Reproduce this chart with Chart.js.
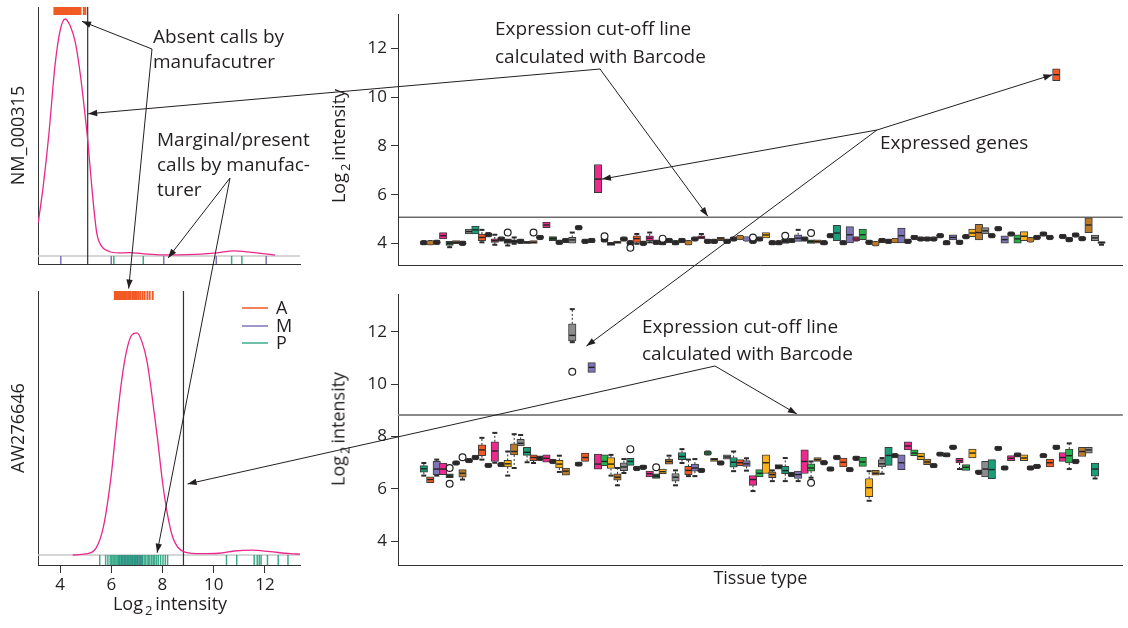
<!DOCTYPE html>
<html>
<head>
<meta charset="utf-8">
<script src="https://cdn.jsdelivr.net/npm/chart.js@4.4.1/dist/chart.umd.min.js"></script>
<style>
  body { margin: 0; background: #fff; width: 1128px; height: 628px; overflow: hidden; position: relative;
         font-family: "Open Sans", sans-serif; color: #231f20; }
  canvas { position: absolute; }
  .t { position: absolute; font-size: 19px; line-height: 25px; white-space: nowrap; }
  .ax { position: absolute; font-size: 18px; line-height: 22px; white-space: nowrap; transform: translate(-50%, -50%); }
  .ax sub { font-size: 13px; vertical-align: -5px; margin: 0 3px 0 2px; }
  .rot { transform: translate(-50%, -50%) rotate(-90deg); }
</style>
</head>
<body>
<canvas id="tl" width="310" height="280" style="left:0;top:0"></canvas>
<canvas id="bl" width="310" height="348" style="left:0;top:280px"></canvas>
<canvas id="tr" width="798" height="280" style="left:330px;top:0"></canvas>
<canvas id="br" width="798" height="348" style="left:330px;top:280px"></canvas>
<canvas id="ov" width="1128" height="628" style="left:0;top:0"></canvas>

<div class="t" style="left:153px;top:24px">Absent calls by<br>manufacutrer</div>
<div class="t" style="left:157px;top:127px">Marginal/present<br>calls by manufac-<br>turer</div>
<div class="t" style="left:495px;top:14px;line-height:28px">Expression cut-off line<br>calculated with Barcode</div>
<div class="t" style="left:880px;top:130px">Expressed genes</div>
<div class="t" style="left:642px;top:313px;line-height:27px">Expression cut-off line<br>calculated with Barcode</div>
<div class="t" id="legend" style="left:276px;top:299px;line-height:17.5px;font-size:18px">A<br>M<br>P</div>

<div class="ax" style="left:170px;top:606px">Log<sub>2</sub>intensity</div>
<div class="ax rot" style="left:341px;top:146px">Log<sub>2</sub>intensity</div>
<div class="ax rot" style="left:341px;top:429px">Log<sub>2</sub>intensity</div>

<script>
// ---- left panels: density of log2 intensity ----
const LEFT_TICKS = [4, 6, 8, 10, 12];
const RIGHT_TICKS = [4, 6, 8, 10, 12];

const nmDensX = [3.15, 3.35, 3.57, 3.8, 4.0, 4.2, 4.4, 4.6, 4.8, 4.91, 5.08, 5.25, 5.43, 5.6, 5.9, 6.3, 6.7, 7.2, 8.0, 9.0, 10.0, 10.8, 11.5, 12.4];
const nmDensY = [0.14, 0.3, 0.52, 0.8, 0.95, 1.0, 0.97, 0.9, 0.76, 0.66, 0.49, 0.28, 0.1, 0.045, 0.02, 0.013, 0.014, 0.01, 0.005, 0.006, 0.012, 0.022, 0.015, 0.004];
const nmCut = 5.08;
const nmAbsent = [3.78, 3.81, 3.84, 3.86, 3.9, 3.93, 3.95, 3.99, 4.02, 4.05, 4.08, 4.1, 4.14, 4.17, 4.2, 4.23, 4.26, 4.3, 4.33, 4.36, 4.4, 4.43, 4.47, 4.5, 4.53, 4.57, 4.6, 4.64, 4.68, 4.71, 4.75, 4.8, 4.93, 4.99];
const nmMarginal = [4.03, 6.0, 8.05, 10.1, 12.05];
const nmPresent = [6.1, 7.25, 10.7, 11.1];

const awDensX = [4.5, 5.0, 5.4, 5.7, 6.0, 6.2, 6.4, 6.6, 6.8, 7.0, 7.2, 7.4, 7.6, 7.8, 8.0, 8.2, 8.4, 8.6, 8.9, 9.5, 10.2, 10.8, 11.5, 12.2, 13.0, 13.4];
const awDensY = [0, 0.005, 0.03, 0.13, 0.36, 0.58, 0.78, 0.92, 0.99, 1.0, 0.96, 0.87, 0.71, 0.53, 0.33, 0.18, 0.08, 0.035, 0.012, 0.006, 0.008, 0.018, 0.022, 0.015, 0.006, 0.004];
const awCut = 8.82;
const awAbsent = [6.14, 6.17, 6.2, 6.24, 6.27, 6.31, 6.35, 6.38, 6.43, 6.47, 6.52, 6.56, 6.61, 6.66, 6.72, 6.76, 6.83, 6.88, 6.93, 7.0, 7.06, 7.13, 7.22, 7.3, 7.41, 7.5, 7.62];
const awMarginal = [6.32, 6.4, 6.46, 6.52, 6.57, 6.64, 6.7, 6.77, 6.84, 6.9, 6.95, 7.02, 7.08, 7.14, 7.2];
const awPresent = [5.55, 5.78, 5.87, 5.96, 6.02, 6.07, 6.12, 6.18, 6.23, 6.28, 6.34, 6.39, 6.44, 6.51, 6.56, 6.62, 6.67, 6.74, 6.8, 6.85, 6.92, 6.98, 7.03, 7.1, 7.16, 7.21, 7.28, 7.33, 7.4, 7.46, 7.51, 7.58, 7.64, 7.7, 7.77, 7.84, 7.93, 8.02, 8.11, 8.2,
                   10.5, 10.9, 11.58, 11.7, 11.78, 11.85, 12.1, 12.52, 12.9];

// ---- right panels: boxplots per tissue type (index = tissue) ----
const topMed = [4.03, 4.03, 4.05, 4.32, 4.01, 4.05, 4.01, 4.49, 4.56, 4.25,
  4.36, 4.12, 4.19, 4.09, 4.09, 4.09, 4.03, 4.05, 4.25, 4.76,
  4.2, 4.05, 4.12, 4.15, 4.65, 4.09, 4.12, 6.64, 4.15, 3.99,
  4.05, 4.19, 4.03, 4.2, 4.01, 4.22, 4.05, 4.03, 4.12, 4.03,
  4.12, 4.03, 4.19, 4.25, 4.09, 4.09, 4.19, 4.09, 4.19, 4.25,
  4.19, 4.09, 4.19, 4.35, 4.03, 4.03, 4.09, 4.12, 4.22, 4.19,
  4.08, 4.08, 4.03, 4.32, 4.43, 4.03, 4.36, 4.19, 4.36, 4.05,
  3.99, 4.12, 4.09, 4.12, 4.32, 4.09, 4.25, 4.19, 4.19, 4.19,
  4.32, 4.03, 4.25, 4.05, 4.28, 4.43, 4.45, 4.52, 4.32, 4.61,
  4.16, 4.39, 4.19, 4.3, 4.15, 4.25, 4.39, 4.25, 10.92, 4.29,
  4.16, 4.35, 4.2, 4.76, 4.23, 4.04];
const topCol = "KBKPDBKRTO" + "KPKKKKDBKP" + "DKKRKKKPKK" + "BKKOKPKKKK" + "KBKPKKBKKB" +
               "UKKYKKKKUK" + "DBKKTKUMGK" + "BKKBUKKKKK" + "KKUKKYBRKK" + "UKGYBKKKOK" + "KKKBRT";
const topBox = [[3, 4.19, 4.45], [4, 3.92, 4.09], [5, 3.99, 4.12], [7, 4.39, 4.59], [8, 4.39, 4.72], [9, 4.12, 4.39],
  [11, 4.05, 4.19], [13, 4.0, 4.19], [14, 4.03, 4.15], [16, 4.0, 4.09], [17, 4.0, 4.12], [19, 4.65, 4.88],
  [20, 4.12, 4.28], [23, 4.01, 4.25], [27, 6.08, 7.24], [29, 3.92, 4.05], [30, 4.0, 4.1], [33, 4.05, 4.32],
  [35, 4.12, 4.32], [43, 4.19, 4.32], [46, 4.12, 4.25], [53, 4.23, 4.45], [56, 4.0, 4.19], [58, 4.09, 4.36],
  [60, 4.0, 4.15], [61, 4.01, 4.15], [64, 4.12, 4.75], [66, 4.03, 4.69], [68, 4.16, 4.59], [74, 4.03, 4.63],
  [82, 4.15, 4.36], [85, 4.28, 4.59], [86, 4.15, 4.79], [87, 4.39, 4.65], [90, 4.01, 4.32], [92, 4.01, 4.36],
  [93, 4.12, 4.49], [98, 10.68, 11.16], [103, 4.45, 5.05], [104, 4.12, 4.35], [105, 4.0, 4.08]];
const topWhisk = [[4, 3.85, null], [9, 4.05, 4.56], [11, 3.95, 4.36], [13, 3.92, null], [14, 3.99, 4.25], [23, null, 4.45],
  [33, 3.99, 4.39], [35, 4.05, 4.45], [43, null, 4.39], [58, null, 4.56], [105, 3.95, null]];
const topOut = [[13, 4.45], [17, 4.45], [28, 4.3], [32, 3.83], [37, 4.2], [51, 4.25], [56, 4.32], [60, 4.43]];
const topCut = 5.08;

const botMed = [6.77, 6.36, 6.76, 6.76, 6.49, 6.99, 6.6, 7.08, 7.2, 7.49,
  6.9, 7.45, 6.93, 6.96, 7.43, 7.74, 7.4, 7.2, 7.17, 7.17,
  7.05, 6.95, 6.68, 11.86, 6.95, 7.2, 10.64, 6.95, 7.05, 6.95,
  6.45, 6.84, 7.05, 6.78, 6.83, 6.58, 6.49, 6.66, 7.05, 6.45,
  7.24, 6.71, 6.8, 6.71, 7.37, 7.12, 6.99, 7.22, 7.02, 7.0,
  6.96, 6.36, 6.6, 7.0, 6.55, 6.84, 6.7, 6.55, 6.55, 7.05,
  6.8, 7.12, 7.0, 6.76, 7.2, 7.02, 6.74, 7.17, 7.03, 6.05,
  6.6, 6.96, 7.28, 7.27, 7.0, 7.64, 7.37, 7.24, 7.03, 6.89,
  7.33, 7.3, 7.59, 7.08, 6.83, 7.37, 6.64, 6.76, 6.74, 7.55,
  6.8, 7.17, 7.3, 7.18, 6.8, 6.86, 7.27, 7.0, 7.59, 7.2,
  7.27, 7.05, 7.43, 7.49, 6.76, null];
const botCol = "TOUPDKBKKO" + "KPKYBRTOKP" + "KYBRKOUPGY" + "BRTKKPDYBR" + "TOUKDYKRTO" +
               "UPGYBKTKUP" + "GBKKKOKKGY" + "BRTKUPGYBK" + "KKKPGYKRTK" + "KPKYKKKOKP" + "GKBRTK";
const botBox = [[0, 6.64, 6.89], [1, 6.24, 6.46], [2, 6.55, 7.05], [3, 6.55, 6.99], [4, 6.43, 6.58], [6, 6.45, 6.74],
  [9, 7.27, 7.68], [11, 7.05, 7.8], [13, 6.84, 7.09], [14, 7.3, 7.72], [15, 7.64, 7.89], [16, 7.28, 7.59],
  [17, 7.08, 7.3], [19, 7.02, 7.3], [21, 6.8, 7.09], [22, 6.53, 6.8], [23, 11.65, 12.3], [25, 7.05, 7.37],
  [26, 10.45, 10.82], [27, 6.76, 7.33], [28, 6.89, 7.3], [29, 6.78, 7.2], [30, 6.34, 6.58], [31, 6.7, 7.0],
  [32, 6.9, 7.17], [35, 6.46, 6.68], [36, 6.4, 6.58], [37, 6.58, 6.76], [38, 6.95, 7.14], [39, 6.3, 6.59],
  [40, 7.12, 7.39], [41, 6.55, 6.86], [42, 6.68, 6.95], [45, 7.05, 7.17], [47, 7.14, 7.3], [48, 6.83, 7.2],
  [49, 6.89, 7.12], [50, 6.86, 7.08], [51, 6.14, 6.51], [52, 6.46, 6.74], [53, 6.59, 7.3], [54, 6.43, 6.65],
  [55, 6.76, 6.93], [56, 6.58, 6.86], [58, 6.4, 6.68], [59, 6.59, 7.49], [60, 6.68, 6.96], [61, 7.05, 7.2],
  [65, 6.84, 7.18], [68, 6.86, 7.22], [69, 5.71, 6.4], [70, 6.53, 6.71], [71, 6.84, 7.12], [72, 6.9, 7.59],
  [74, 6.74, 7.3], [75, 7.49, 7.8], [76, 7.27, 7.49], [77, 7.12, 7.37], [78, 6.93, 7.14], [83, 6.99, 7.17],
  [84, 6.71, 6.93], [85, 7.18, 7.52], [87, 6.46, 7.05], [88, 6.39, 7.12], [91, 7.08, 7.27], [93, 7.08, 7.3],
  [97, 6.84, 7.14], [99, 7.05, 7.39], [100, 6.99, 7.52], [102, 7.24, 7.59], [103, 7.37, 7.59], [104, 6.49, 6.99]];
const botWhisk = [[0, 6.51, 6.99], [2, 6.51, 7.12], [6, 6.36, null], [9, 7.12, 7.95], [11, 7.0, 8.14], [13, 6.51, 7.43],
  [14, 6.8, 8.09], [15, null, 8.06], [16, 7.02, null], [17, 6.99, null], [21, 6.65, 7.27], [23, 11.6, 12.86],
  [29, 6.51, 7.3], [30, 6.14, 6.8], [31, 6.61, 7.14], [38, null, 7.27], [39, 6.14, 6.71], [40, 6.99, 7.52],
  [41, 6.49, 7.12], [42, 6.49, 7.14], [48, 6.68, 7.43], [50, 6.7, 7.17], [51, 5.92, null], [54, 6.3, 6.71],
  [56, 6.3, 7.18], [58, 6.3, null], [60, 6.43, 7.05], [69, 5.55, 6.68], [71, 6.58, 7.18], [83, 6.76, null],
  [100, 6.76, 7.74], [104, 6.4, null]];
const botOut = [[4, 6.8], [4, 6.2], [6, 7.21], [23, 10.47], [32, 7.52], [36, 6.83], [60, 6.24]];
const botCut = 8.82;

const PAL = { K: '#2b2728', P: '#ec2a8d', T: '#1a9e77', G: '#25b04b', O: '#f15a24', Y: '#fbb117',
              B: '#b97b2a', R: '#8d8d8d', U: '#7e74b8', D: '#215b37', M: '#7d2447' };
const ABSENT = '#f15a24', MARGINAL = '#7e74b8', PRESENT = 'rgba(26,158,119,0.85)';

Chart.defaults.font.family = '"Open Sans", sans-serif';
Chart.defaults.color = '#231f20';
Chart.defaults.animation = false;
Chart.defaults.plugins.legend.display = false;
Chart.defaults.plugins.tooltip.enabled = false;

function rugSet(vals, y, r, color, w) {
  return {
    type: 'scatter', data: vals.map(v => ({ x: v, y })),
    pointStyle: 'line', pointRotation: 90, pointRadius: r,
    pointBorderColor: color, pointBorderWidth: w, showLine: false,
  };
}

function densityChart(id, dx, dy, cut, absent, marginal, present, cfg) {
  return new Chart(document.getElementById(id), {
    type: 'line',
    data: {
      datasets: [
        { data: dx.map((x, i) => ({ x, y: dy[i] })), borderColor: '#e8288a', borderWidth: 1.3,
          pointRadius: 0, cubicInterpolationMode: 'monotone', fill: false },
        rugSet(absent, cfg.topRugY, cfg.topRugR, ABSENT, 1.9),
        rugSet(present, cfg.botRugY, cfg.botRugR, PRESENT, 1.5),
        rugSet(marginal, cfg.botRugY, cfg.botRugR, MARGINAL, 1.5),
      ],
    },
    options: {
      responsive: false,
      layout: { padding: { top: cfg.top, right: 10, left: 0, bottom: 0 } },
      scales: {
        x: {
          type: 'linear', min: 3.14, max: 13.37,
          afterBuildTicks: s => { s.ticks = LEFT_TICKS.map(v => ({ value: v })); },
          afterFit: s => { s.height = cfg.xHeight; },
          grid: { display: true, drawOnChartArea: false, drawTicks: cfg.xTicks, tickLength: 8, color: '#333' },
          border: { display: true, color: '#333', width: 1 },
          ticks: { display: cfg.xTicks, font: { size: 17 }, padding: 2, maxRotation: 0 },
        },
        y: {
          type: 'linear', min: cfg.yMin, max: cfg.yMax,
          afterFit: s => { s.width = 38; },
          grid: { display: true, drawOnChartArea: false, drawTicks: false },
          border: { display: true, color: '#333', width: 1 },
          ticks: { display: false },
          title: { display: true, text: cfg.name, font: { size: 18 }, padding: { top: 8, bottom: 0 } },
        },
      },
    },
    plugins: [{
      id: 'refLines',
      beforeDatasetsDraw(chart) {
        const { ctx, chartArea: a, scales: { x, y } } = chart;
        ctx.save();
        ctx.strokeStyle = '#c8c8c8'; ctx.lineWidth = 1.5;
        const y0 = y.getPixelForValue(0);
        ctx.beginPath(); ctx.moveTo(a.left, y0); ctx.lineTo(a.right, y0); ctx.stroke();
        ctx.strokeStyle = '#333'; ctx.lineWidth = 1.2;
        const cx = x.getPixelForValue(cut);
        ctx.beginPath(); ctx.moveTo(cx, a.top); ctx.lineTo(cx, a.bottom); ctx.stroke();
        ctx.restore();
      },
    }],
  });
}

function boxChart(id, med, col, boxes, whisk, out, cut, cfg) {
  const boxMap = {};
  boxes.forEach(([c, a, b]) => { boxMap[c] = [a, b]; });
  const bars = [], colors = [], isDot = [];
  med.forEach((m, c) => {
    if (m == null) return;
    const b = boxMap[c];
    bars.push({ x: c, y: b ? b : [m - cfg.dot, m + cfg.dot] });
    colors.push(PAL[col[c]]);
    isDot.push(!b);
  });
  const line = (ctx, x0, y0, x1, y1) => { ctx.beginPath(); ctx.moveTo(x0, y0); ctx.lineTo(x1, y1); ctx.stroke(); };

  return new Chart(document.getElementById(id), {
    type: 'bar',
    data: {
      datasets: [
        { type: 'scatter', data: out.map(([c, v]) => ({ x: c, y: v })), pointRadius: 3.4,
          pointBackgroundColor: '#fff', pointBorderColor: '#222', pointBorderWidth: 1.2, showLine: false },
        { data: bars, backgroundColor: colors, borderColor: '#3a3a3a', borderWidth: 1,
          borderSkipped: false, barThickness: 7.5,
          borderRadius: c => (isDot[c.dataIndex] ? 3 : 0.5) },
      ],
    },
    options: {
      responsive: false,
      layout: { padding: { top: cfg.top, right: 0, left: 0, bottom: 0 } },
      scales: {
        x: {
          type: 'linear', min: -4, max: 108.3, offset: false,
          afterFit: s => { s.height = cfg.xHeight; },
          grid: { display: true, drawOnChartArea: false, drawTicks: false },
          border: { display: true, color: '#333', width: 1 },
          ticks: { display: false },
          title: { display: !!cfg.xTitle, text: cfg.xTitle || '', font: { size: 18 }, padding: { top: 0, bottom: 38 } },
        },
        y: {
          type: 'linear', min: cfg.yMin, max: cfg.yMax,
          afterBuildTicks: s => { s.ticks = RIGHT_TICKS.map(v => ({ value: v })); },
          afterFit: s => { s.width = 68; },
          grid: { display: true, drawOnChartArea: false, drawTicks: true, tickLength: 7, color: '#333' },
          border: { display: true, color: '#333', width: 1 },
          ticks: { font: { size: 17 }, padding: 4 },
        },
      },
    },
    plugins: [{
      id: 'boxExtras',
      beforeDatasetsDraw(chart) {
        const { ctx, chartArea: a, scales: { x, y } } = chart;
        ctx.save();
        ctx.strokeStyle = cfg.cutColor; ctx.lineWidth = cfg.cutWidth;
        const cy = y.getPixelForValue(cut);
        line(ctx, a.left, cy, a.right, cy);
        ctx.strokeStyle = '#2b2b2b';
        whisk.forEach(([c, lo, hi]) => {
          const px = x.getPixelForValue(c);
          const b = boxMap[c] || [med[c], med[c]];
          [[lo, b[0]], [hi, b[1]]].forEach(([end, edge]) => {
            if (end == null) return;
            const e = y.getPixelForValue(end), s = y.getPixelForValue(edge);
            ctx.lineWidth = 1; ctx.setLineDash([2, 2]); line(ctx, px, s, px, e);
            ctx.lineWidth = 2; ctx.setLineDash([]); line(ctx, px - 2.5, e, px + 2.5, e);
          });
        });
        ctx.restore();
      },
      afterDatasetsDraw(chart) {
        const { ctx, scales: { x, y } } = chart;
        ctx.save();
        ctx.strokeStyle = '#222'; ctx.lineWidth = 1.4;
        boxes.forEach(([c]) => {
          const px = x.getPixelForValue(c), py = y.getPixelForValue(med[c]);
          line(ctx, px - 3, py, px + 3, py);
        });
        ctx.restore();
      },
    }],
  });
}

const tl = densityChart('tl', nmDensX, nmDensY, nmCut, nmAbsent, nmMarginal, nmPresent, {
  name: 'NM_000315', top: 7, xHeight: 16, xTicks: false, yMin: -0.0338, yMax: 1.0506,
  topRugY: 1.0338, topRugR: 4, botRugY: -0.0169, botRugR: 4 });
const bl = densityChart('bl', awDensX, awDensY, awCut, awAbsent, awMarginal, awPresent, {
  name: 'AW276646', top: 11, xHeight: 63, xTicks: true, yMin: -0.045, yMax: 1.189,
  topRugY: 1.169, topRugR: 4.5, botRugY: -0.0225, botRugR: 5 });
const tr = boxChart('tr', topMed, topCol, topBox, topWhisk, topOut, topCut, {
  top: 8, xHeight: 15, yMin: 3.12, yMax: 13.4, dot: 0.1, cutColor: '#222', cutWidth: 1 });
const br = boxChart('br', botMed, botCol, botBox, botWhisk, botOut, botCut, {
  top: 10, xHeight: 63, yMin: 3.1, yMax: 13.43, dot: 0.09, cutColor: '#8a8a8a', cutWidth: 2,
  xTitle: 'Tissue type' });

// ---- annotation arrows and legend keys on an overlay ----
const OFF = new Map([[tl, [0, 0]], [bl, [0, 280]], [tr, [330, 0]], [br, [330, 280]]]);
function at(chart, xv, yv) {
  const [ox, oy] = OFF.get(chart);
  return [ox + chart.scales.x.getPixelForValue(xv), oy + chart.scales.y.getPixelForValue(yv)];
}
const ov = document.getElementById('ov').getContext('2d');
ov.strokeStyle = '#231f20'; ov.fillStyle = '#231f20'; ov.lineWidth = 1;
function arrow(from, to) {
  const [x0, y0] = from, [x1, y1] = to;
  ov.beginPath(); ov.moveTo(x0, y0); ov.lineTo(x1, y1); ov.stroke();
  const ang = Math.atan2(y1 - y0, x1 - x0), L = 9, W = 3.2;
  const bx = x1 - L * Math.cos(ang), by = y1 - L * Math.sin(ang);
  ov.beginPath(); ov.moveTo(x1, y1);
  ov.lineTo(bx + W * Math.sin(ang), by - W * Math.cos(ang));
  ov.lineTo(bx - W * Math.sin(ang), by + W * Math.cos(ang));
  ov.closePath(); ov.fill();
}
const absentFrom = [152, 49], marginalFrom = [230, 178], cutTopFrom = [600, 69],
      expressedFrom = [877, 130], cutBotFrom = [715, 366];
arrow(absentFrom, at(tl, 4.86, 0.99));
arrow(absentFrom, at(bl, 6.68, 1.2));
arrow(marginalFrom, at(tl, 8.22, -0.008));
arrow(marginalFrom, at(bl, 7.79, 0.01));
arrow(cutTopFrom, at(tl, 5.1, 0.6));
arrow(cutTopFrom, at(tr, 44, 5.12));
arrow(expressedFrom, at(tr, 97.4, 10.92));
arrow(expressedFrom, at(tr, 27.6, 6.64));
arrow(expressedFrom, at(br, 25.2, 11.45));
arrow(cutBotFrom, at(br, 57.8, 8.86));
arrow(cutBotFrom, at(bl, 8.98, 0.32));

// legend keys for A / M / P
[[ABSENT, 308], [MARGINAL, 326], [PRESENT, 343]].forEach(([c, y]) => {
  ov.strokeStyle = c; ov.lineWidth = 1.5;
  ov.beginPath(); ov.moveTo(242, y); ov.lineTo(268, y); ov.stroke();
});
</script>
</body>
</html>
